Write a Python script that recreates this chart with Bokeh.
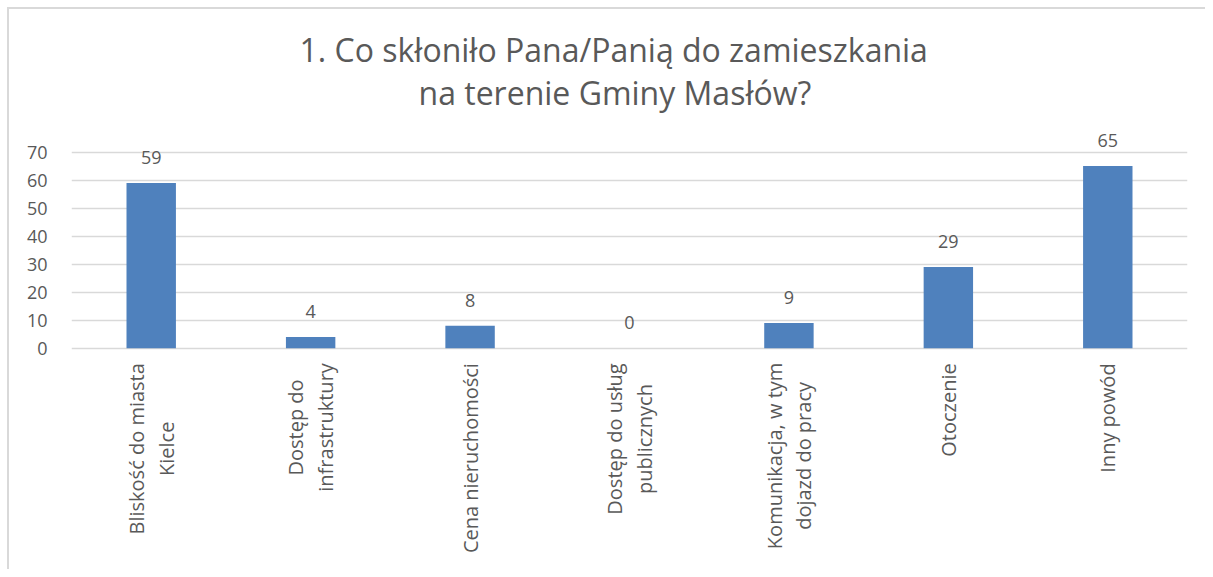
from bokeh.plotting import figure
from bokeh.models import ColumnDataSource, Title, Range1d, FactorRange, FixedTicker
from bokeh.core.properties import value
from bokeh.embed import file_html
from bokeh.resources import INLINE
import math

# ---- data ----
categories = [
    "Bliskość do miasta Kielce",
    "Dostęp do infrastruktury",
    "Cena nieruchomości",
    "Dostęp do usług publicznych",
    "Komunikacja, w tym dojazd do pracy",
    "Otoczenie",
    "Inny powód",
]
tick_labels = [
    "Bliskość do miasta\nKielce",
    "Dostęp do\ninfrastruktury",
    "Cena nieruchomości",
    "Dostęp do usług\npublicznych",
    "Komunikacja, w tym\ndojazd do pracy",
    "Otoczenie",
    "Inny powód",
]
values = [59, 4, 8, 0, 9, 29, 65]
y_ticks = [0, 10, 20, 30, 40, 50, 60, 70]
title_lines = ["1. Co skłoniło Pana/Panią do zamieszkania", "na terenie Gminy Masłów?"]

FONT = "Open Sans"
GREY = "#595959"
LABEL_PX = 20

# approximate Open Sans advance widths (units per em = 2048), used only to
# centre the rotated multi-line category labels below the axis
_ADV = {" ": 532, ",": 492, "B": 1300, "C": 1264, "D": 1479, "I": 586, "K": 1167,
        "O": 1599, "a": 1139, "ą": 1139, "b": 1255, "c": 975, "ć": 975, "d": 1255,
        "e": 1149, "ę": 1149, "f": 694, "g": 1122, "h": 1257, "i": 518, "j": 518,
        "k": 1075, "l": 518, "ł": 543, "m": 1905, "n": 1257, "o": 1237, "ó": 1237,
        "p": 1255, "r": 836, "s": 977, "ś": 977, "t": 723, "u": 1257, "w": 1589,
        "y": 1026, "z": 977}


def text_width(s, size):
    return sum(_ADV.get(ch, 1100) for ch in s) / 2048 * size


tick_offsets = [15 + max(text_width(line, LABEL_PX) for line in t.split("\n")) / 2
                for t in tick_labels]

source = ColumnDataSource(dict(cat=categories, val=values, lab=[str(v) for v in values],
                               tick=tick_labels, toff=tick_offsets,
                               zero=[0] * len(values)))

# frame spans from below the title to the bottom of the canvas, so that the
# value labels and the rotated category labels are drawn inside it
p = figure(
    x_range=FactorRange(*categories, range_padding=0),
    y_range=Range1d(-79.0, 82.0),
    width=1205, height=569,
    output_backend="svg", toolbar_location=None,
    min_border_left=71, min_border_right=18, min_border_top=118, min_border_bottom=0,
    border_fill_color=None, background_fill_color=None,
)
# light chart-area border (left and top edges)
p.styles = {
    "background": "linear-gradient(#d9d9d9, #d9d9d9) 7px 7px / 2px calc(100% - 7px) no-repeat, "
                  "linear-gradient(#d9d9d9, #d9d9d9) 7px 7px / calc(100% - 7px) 2px no-repeat, "
                  "#ffffff"
}

p.vbar(x="cat", top="val", width=0.31, source=source, fill_color="#4F81BD", line_color=None)

p.text(x="cat", y="val", text="lab", source=source, text_align="center",
       text_baseline="bottom", y_offset=-19, text_font=value(FONT),
       text_font_size="18px", text_color=GREY)

p.text(x="cat", y="zero", text="tick", source=source, angle=math.pi / 2,
       anchor="center", text_align="center", text_baseline="middle", y_offset="toff",
       text_font=value(FONT), text_font_size=f"{LABEL_PX}px", text_color=GREY,
       text_line_height=1.1)

# titles
t2 = Title(text=title_lines[1], align="left", text_font=FONT, text_font_size="32px",
           text_font_style="normal", text_color=GREY, standoff=9, offset=347)
t1 = Title(text=title_lines[0], align="left", text_font=FONT, text_font_size="32px",
           text_font_style="normal", text_color=GREY, standoff=-13, offset=228)
p.add_layout(t2, "above")
p.add_layout(t1, "above")

p.outline_line_color = None
p.xgrid.grid_line_color = None
p.ygrid.grid_line_color = "#d9d9d9"
p.ygrid.grid_line_width = 1.5

p.yaxis.ticker = FixedTicker(ticks=y_ticks)
p.yaxis.axis_line_color = None
p.yaxis.major_tick_line_color = None
p.yaxis.minor_tick_line_color = None
p.yaxis.major_label_standoff = 18
p.yaxis.major_label_text_font = FONT
p.yaxis.major_label_text_font_size = "18px"
p.yaxis.major_label_text_color = GREY

p.xaxis.visible = False

open("out.html", "w").write(file_html(p, INLINE))
